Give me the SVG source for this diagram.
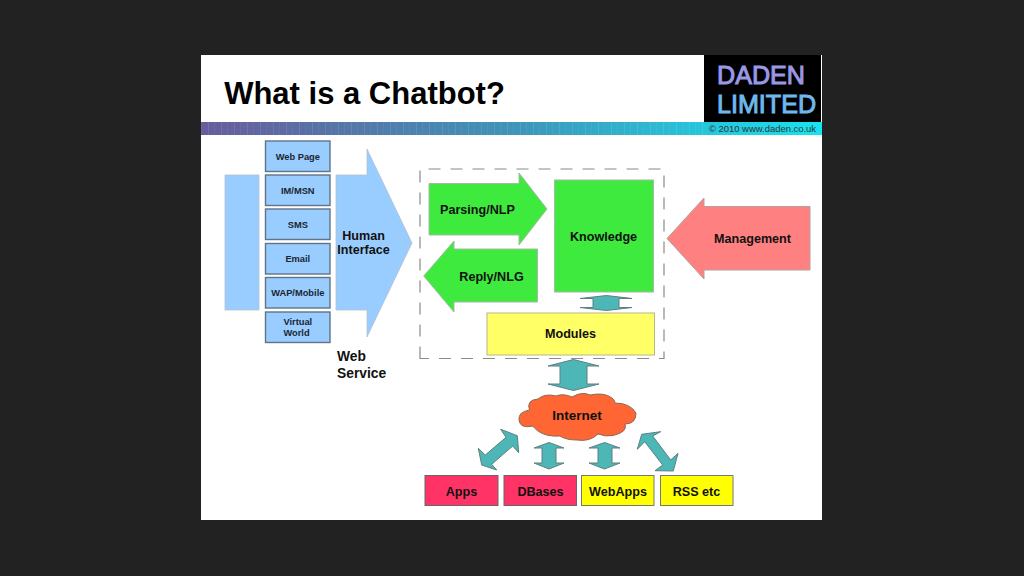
<svg xmlns="http://www.w3.org/2000/svg" width="1024" height="576" viewBox="0 0 1024 576">
<style>
text{font-family:"Liberation Sans",Arial,sans-serif;font-weight:700;fill:#111;text-anchor:middle}
.box{fill:#99ccff;stroke:#5f7488;stroke-width:1.4}
.lb{fill:#99ccff;stroke:#b4c2d0;stroke-width:.8}
.gr{fill:#3dea3d;stroke:#a9b8a9;stroke-width:1}
.ye{fill:#ffff66;stroke:#b8b88a;stroke-width:1}
.te{fill:#4db6b6;stroke:#5e8080;stroke-width:1}
.re{fill:#ff3366;stroke:#666;stroke-width:1}
.yb{fill:#ffff00;stroke:#777;stroke-width:1}
.s{font-size:9.3px;fill:#1c2530}
.m{font-size:12.6px}
.logo{font-size:25.5px;font-weight:400;text-anchor:start}
</style>
<defs>
<linearGradient id="bar" x1="0" x2="1" y1="0" y2="0"><stop offset="0" stop-color="#685c9c"/><stop offset=".5" stop-color="#3f94b8"/><stop offset="1" stop-color="#16e4f0"/></linearGradient>
<pattern id="stripes" width="13" height="13" patternUnits="userSpaceOnUse"><rect x="0" width="1" height="13" fill="#fff" opacity=".1"/><rect x="6" width="1" height="13" fill="#fff" opacity=".05"/></pattern>
</defs>
<rect width="1024" height="576" fill="#222"/>
<rect x="201" y="55" width="621" height="465" fill="#fff"/>
<g id="header">
<rect x="201" y="122" width="621" height="13" fill="url(#bar)"/>
<rect x="201" y="122" width="503" height="13" fill="url(#stripes)"/>
<rect x="704" y="55" width="117" height="67" fill="#000"/>
<text x="364.500" y="104" style="font-size:31px;fill:#000">What is a Chatbot?</text>
<text class="logo" x="717" y="83.500" style="fill:#9a98e6" textLength="88" lengthAdjust="spacingAndGlyphs" stroke="#9a98e6" stroke-width="1">DADEN</text>
<text class="logo" x="717" y="112.500" style="fill:#6db8ec" textLength="99" lengthAdjust="spacingAndGlyphs" stroke="#6db8ec" stroke-width="1">LIMITED</text>
<text x="762.500" y="132" style="font-size:9.500px;font-weight:400;fill:#333" textLength="107" lengthAdjust="spacing">© 2010 www.daden.co.uk</text>
</g>
<g id="connectors">
<path id="dashed-frame" d="M420 358.500V169H664V358.500Z" fill="none" stroke="#8a8a8a" stroke-width="1.200" stroke-dasharray="12 10"/>
<path class="te" d="M606.500 295.500L632 298.500H619V307.500H632L606.500 310.500L580 307.500H593V298.500H580Z"/>
<path class="te" d="M573.500 359.500L599 366H587V384H599L573.500 390.500L548 384H560V366H548Z"/>
<path class="te" d="M549 442.500L564 448H556V463H564L549 469L534 463H542V448H534Z"/>
<path class="te" d="M604.500 442.500L620 448H612V463H620L604.500 469L589 463H598V448H589Z"/>
<path class="te" d="M500.700 429.300L517.300 435.700L518.700 452.700L512.700 446L491.700 464.300L496.700 470L481.700 465L478.300 448.300L485.300 455L506 437.300Z"/>
<path class="te" d="M660.700 431.700L652.700 436L670.700 460L678 453.300L673.300 471L655 470.700L662.700 465L644.700 441.700L637.300 449.300L641.700 434.300Z"/>
</g>
<g id="web-service-bar"><rect class="lb" x="225" y="175" width="34" height="135"/></g>
<g id="web-page"><rect class="box" x="265.500" y="141" width="64.500" height="30.500"/><text class="s" x="297.800" y="159.500">Web Page</text></g>
<g id="im-msn"><rect class="box" x="265.500" y="175" width="64.500" height="30.500"/><text class="s" x="297.800" y="193.500">IM/MSN</text></g>
<g id="sms"><rect class="box" x="265.500" y="209" width="64.500" height="30.500"/><text class="s" x="297.800" y="228">SMS</text></g>
<g id="email"><rect class="box" x="265.500" y="243.500" width="64.500" height="30.500"/><text class="s" x="297.800" y="261.500">Email</text></g>
<g id="wap"><rect class="box" x="265.500" y="277.500" width="64.500" height="30.500"/><text class="s" x="297.800" y="296">WAP/Mobile</text></g>
<g id="virtual-world"><rect class="box" x="265.500" y="312" width="64.500" height="30.500"/><text class="s" x="297.800" y="325">Virtual</text><text class="s" x="296.500" y="336">World</text></g>
<g id="human-interface"><path class="lb" d="M336 175H367V149L412 243L367 337V310H336Z"/><text class="m" x="363.500" y="240">Human</text><text class="m" x="363.500" y="254">Interface</text></g>
<g id="web-service"><text x="337" y="361" style="font-size:13.800px;text-anchor:start">Web</text><text x="337" y="377.500" style="font-size:13.800px;text-anchor:start">Service</text></g>
<g id="parsing"><path class="gr" d="M429 183.500H519V173L547 209L519 245V235H429Z"/><text class="m" x="477.500" y="214">Parsing/NLP</text></g>
<g id="reply"><path class="gr" d="M537.500 249H454V241L423.700 276L454 312V302H537.500Z"/><text class="m" x="491.500" y="280.500">Reply/NLG</text></g>
<g id="knowledge"><rect class="gr" x="554.500" y="180" width="99" height="112"/><text class="m" x="603.500" y="240.500">Knowledge</text></g>
<g id="modules"><rect class="ye" x="487" y="313" width="167.500" height="42"/><text class="m" x="570.500" y="338">Modules</text></g>
<g id="management"><path d="M667 238.500L704 198V206.500H810V270H704V279Z" fill="#ff8080" stroke="#b4a0a0" stroke-width="1"/><text class="m" x="752.500" y="242.500">Management</text></g>
<g id="internet"><path d="M519 420Q518 412 529.500 410Q526 400 538 399Q545 393 556 396Q563 393 572 397Q582 391 590 395Q604 392 612 398Q615 400 615 403Q630 403 636 413Q636 424 625 424Q628 432 613 435.500Q606 437 598 434Q590 442 577 440Q566 440 560 436Q546 437 538 431Q534 428 533 426Q520 429 519 420Z" fill="#ff6633" stroke="#8a6a55" stroke-width="1"/><text x="577" y="420" style="font-size:13.500px">Internet</text></g>
<g id="apps"><rect class="re" x="425" y="475.500" width="73" height="30"/><text class="m" x="461.500" y="495.500">Apps</text></g>
<g id="dbases"><rect class="re" x="504" y="475.500" width="72.500" height="30"/><text class="m" x="540.500" y="495.500">DBases</text></g>
<g id="webapps"><rect class="yb" x="581.500" y="475.500" width="72.500" height="30"/><text class="m" x="618" y="495.500">WebApps</text></g>
<g id="rss"><rect class="yb" x="660.500" y="475.500" width="72.500" height="30"/><text class="m" x="696.500" y="495.500">RSS etc</text></g>
</svg>
